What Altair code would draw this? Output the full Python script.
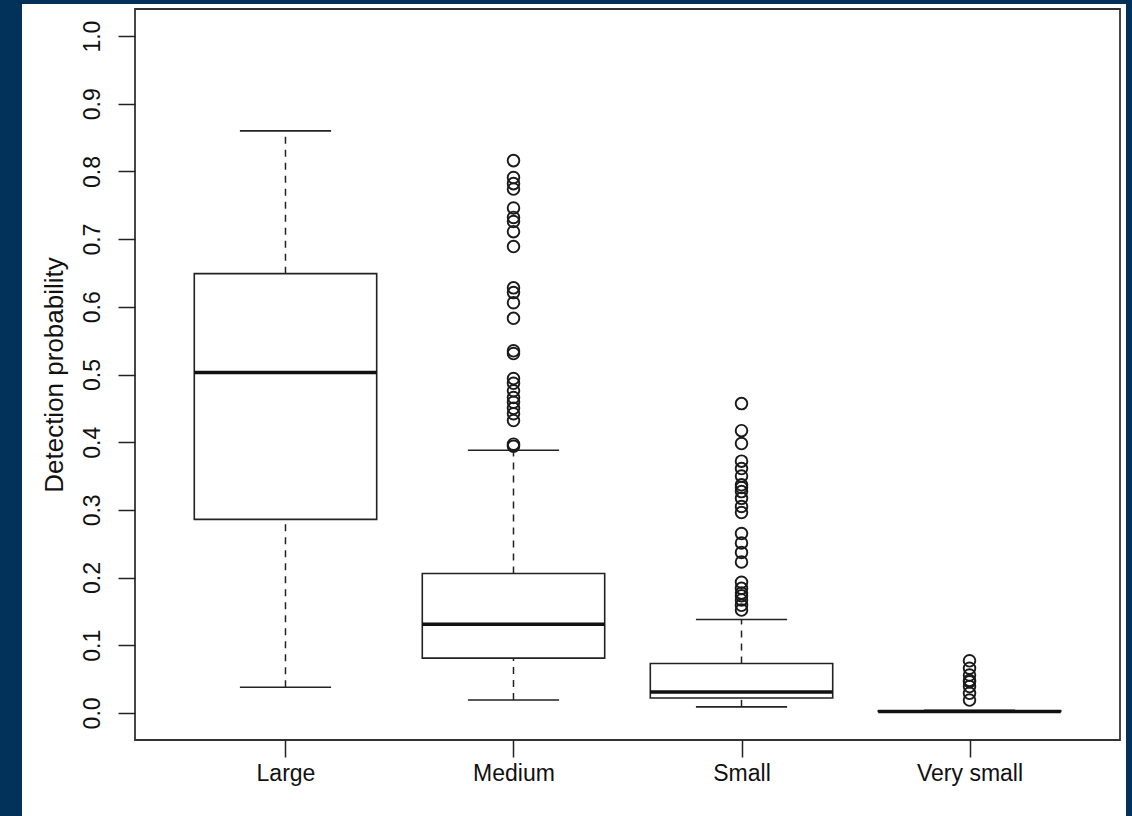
import altair as alt
import pandas as pd

categories = ["Large", "Medium", "Small", "Very small"]
whisker_low = [0.038, 0.019, 0.009, 0.001]
q1 = [0.286, 0.081, 0.022, 0.002]
median = [0.503, 0.131, 0.031, 0.002]
q3 = [0.649, 0.206, 0.073, 0.003]
whisker_high = [0.860, 0.388, 0.138, 0.004]

outliers_medium = [0.816, 0.791, 0.782, 0.774, 0.746, 0.732, 0.726, 0.711, 0.689,
                   0.628, 0.621, 0.606, 0.583, 0.535, 0.531, 0.494, 0.487, 0.476,
                   0.466, 0.459, 0.450, 0.442, 0.432, 0.397, 0.394]
outliers_small = [0.457, 0.417, 0.398, 0.372, 0.361, 0.350, 0.337, 0.333, 0.327,
                  0.317, 0.305, 0.296, 0.265, 0.251, 0.237, 0.223, 0.193, 0.184,
                  0.177, 0.173, 0.167, 0.159, 0.152]
outliers_vsmall = [0.077, 0.066, 0.056, 0.048, 0.046, 0.039, 0.029, 0.019]

y_ticks = [round(i * 0.1, 1) for i in range(11)]

W, H = 985, 731
INK = "#222222"
FONT = "Liberation Sans"

stats = pd.DataFrame({
    "cat": categories,
    "pos": list(range(1, len(categories) + 1)),
    "lo": whisker_low, "q1": q1, "med": median, "q3": q3, "hi": whisker_high,
})
out_rows = ([{"cat": "Medium", "pos": 2, "v": v} for v in outliers_medium]
            + [{"cat": "Small", "pos": 3, "v": v} for v in outliers_small]
            + [{"cat": "Very small", "pos": 4, "v": v} for v in outliers_vsmall])
outs = pd.DataFrame(out_rows)

xscale = alt.Scale(domain=[0.34, 4.66], nice=False, zero=False)
yscale = alt.Scale(domain=[-0.04, 1.04], nice=False, zero=False)

label_expr = ("datum.value == 1 ? 'Large' : datum.value == 2 ? 'Medium' : "
              "datum.value == 3 ? 'Small' : 'Very small'")

xaxis = alt.Axis(values=[1, 2, 3, 4], labelExpr=label_expr, title=None,
                 grid=False, domain=False, tickSize=17, tickColor=INK,
                 tickWidth=1.5, labelPadding=5, labelFontSize=23, labelFont=FONT,
                 labelColor="#111", labelAngle=0, labelAlign="center",
                 labelBaseline="top", zindex=1)
yaxis = alt.Axis(values=y_ticks, format=".1f", title="Detection probability",
                 grid=False, domain=False, tickSize=17, tickColor=INK,
                 tickWidth=1.5, labelAngle=-90, labelAlign="center",
                 labelBaseline="bottom", labelPadding=14, labelFontSize=23,
                 labelFont=FONT, labelColor="#111", titleFont=FONT,
                 titleFontSize=26, titleFontWeight="normal", titleColor="#111",
                 titlePadding=14, zindex=1)

base = alt.Chart(stats)

bg = alt.Chart(pd.DataFrame({"a": [0]})).mark_rect(fill="white", clip=False).encode(
    x=alt.value(-113), x2=alt.value(W + 6), y=alt.value(-5), y2=alt.value(H + 80)
)

whisk_up = base.mark_rule(color=INK, strokeWidth=1.5, strokeDash=[7, 6]).encode(
    x=alt.X("pos:Q", scale=xscale, axis=xaxis),
    y=alt.Y("q3:Q", scale=yscale, axis=yaxis),
    y2="hi:Q",
)
whisk_dn = base.mark_rule(color=INK, strokeWidth=1.5, strokeDash=[7, 6]).encode(
    x=alt.X("pos:Q", scale=xscale), y=alt.Y("lo:Q", scale=yscale), y2="q1:Q"
)
cap_hi = base.transform_calculate(
    xa="datum.pos - 0.2", xb="datum.pos + 0.2"
).mark_rule(color=INK, strokeWidth=1.6).encode(
    x=alt.X("xa:Q", scale=xscale), x2="xb:Q", y=alt.Y("hi:Q", scale=yscale)
)
cap_lo = base.transform_calculate(
    xa="datum.pos - 0.2", xb="datum.pos + 0.2"
).mark_rule(color=INK, strokeWidth=1.6).encode(
    x=alt.X("xa:Q", scale=xscale), x2="xb:Q", y=alt.Y("lo:Q", scale=yscale)
)
box = base.transform_calculate(
    xa="datum.pos - 0.4", xb="datum.pos + 0.4"
).mark_rect(fill="white", stroke=INK, strokeWidth=1.6).encode(
    x=alt.X("xa:Q", scale=xscale), x2="xb:Q",
    y=alt.Y("q1:Q", scale=yscale), y2="q3:Q",
)
med = base.transform_calculate(
    xa="datum.pos - 0.4", xb="datum.pos + 0.4"
).mark_rule(color="#111", strokeWidth=3.5).encode(
    x=alt.X("xa:Q", scale=xscale), x2="xb:Q", y=alt.Y("med:Q", scale=yscale)
)
pts = alt.Chart(outs).mark_point(
    shape="circle", filled=False, size=135, color="#1a1a1a", strokeWidth=1.9, opacity=1
).encode(
    x=alt.X("pos:Q", scale=xscale), y=alt.Y("v:Q", scale=yscale)
)
frame = alt.Chart(pd.DataFrame({"a": [0]})).mark_rect(
    fill=None, fillOpacity=0, stroke="#333", strokeWidth=1.8, clip=False
).encode(x=alt.value(0), x2=alt.value(W), y=alt.value(0), y2=alt.value(H))

chart = alt.layer(bg, whisk_up, whisk_dn, cap_hi, cap_lo, box, med, pts, frame).properties(
    width=W, height=H,
    padding={"left": 135, "top": 9, "right": 12, "bottom": 76},
    autosize=alt.AutoSizeParams(type="none"),
).configure(background="#02325A").configure_view(stroke=None)

chart.save("out.html", embed_options={"renderer": "svg", "actions": False})
